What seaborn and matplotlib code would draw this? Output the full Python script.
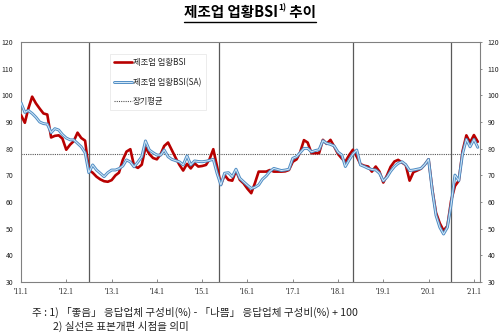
import matplotlib
matplotlib.use("Agg")
import matplotlib.pyplot as plt
import matplotlib.patheffects as pe
from matplotlib.lines import Line2D
import numpy as np
import pandas as pd
import seaborn as sns

# 제조업 업황BSI (원계열), 2011.1 ~ 2021.2 월별
bsi = [
    92.6, 89.7, 95.0, 99.5, 97.0, 95.0, 93.2, 92.8, 84.2, 84.8, 85.0, 83.8,
    79.6, 81.5, 82.8, 86.0, 84.0, 83.0, 72.0, 71.0, 69.5, 68.5, 67.8, 67.6,
    68.2, 70.0, 71.0, 75.8, 78.9, 79.8, 73.5, 72.8, 74.0, 80.5, 78.0, 76.5,
    76.0, 78.0, 81.0, 82.3, 79.5, 76.6, 74.0, 71.8, 74.3, 72.6, 74.5, 73.3,
    73.5, 73.9, 76.0, 79.8, 73.3, 66.5, 70.1, 68.3, 68.0, 71.8, 68.3, 67.0,
    65.0, 63.3, 67.0, 71.4, 71.4, 71.4, 72.0, 71.4, 71.4, 71.4, 71.5, 72.0,
    75.1, 76.0, 78.6, 83.2, 82.3, 78.3, 78.3, 78.3, 83.3, 81.8, 83.3, 80.8,
    78.0, 76.3, 75.1, 77.6, 79.6, 77.0, 74.2, 73.6, 73.3, 71.4, 73.3, 71.4,
    67.3, 70.1, 73.2, 75.2, 75.8, 74.8, 73.9, 68.0, 71.2, 71.8, 72.5, 74.0,
    76.0, 64.5, 56.0, 52.0, 49.3, 51.0, 60.5, 66.0, 68.0, 79.0, 85.0, 82.3,
    85.1, 82.6,
]

# 제조업 업황BSI (계절조정계열)
bsi_sa = [
    97.2, 93.6, 94.3, 93.2, 91.8, 90.0, 89.4, 89.2, 86.0, 87.5, 87.0, 85.3,
    84.0, 83.3, 83.3, 82.0, 80.7, 78.5, 71.0, 73.9, 72.0, 70.8, 69.5, 71.0,
    72.0, 72.0, 72.5, 73.5, 75.8, 75.0, 73.2, 75.0, 77.0, 82.9, 79.5, 78.5,
    77.6, 77.6, 79.5, 77.0, 76.0, 75.5, 75.1, 73.9, 77.3, 73.9, 75.4, 75.2,
    75.1, 75.3, 75.6, 76.0, 70.8, 66.4, 70.8, 71.0, 69.5, 72.3, 68.9, 67.6,
    66.3, 65.1, 65.5, 66.4, 68.5, 69.8, 71.5, 72.6, 72.2, 71.8, 72.0, 72.3,
    76.4, 77.0, 78.5, 80.1, 80.1, 78.8, 79.3, 79.6, 83.0, 82.0, 81.6, 81.0,
    78.7, 77.6, 73.3, 75.8, 78.0, 79.5, 73.9, 73.3, 72.6, 72.2, 72.0, 70.8,
    67.9, 69.4, 71.5, 73.3, 74.5, 75.1, 74.0, 71.8, 72.0, 72.3, 72.6, 74.0,
    76.0, 64.0, 55.0, 50.5, 48.0, 50.5, 59.0, 70.1, 68.0, 78.0, 83.5, 80.7,
    83.5, 80.5,
]

long_run_avg = 78
revision_dates = ["2012-07-01", "2015-05-15", "2018-05-01", "2020-07-01"]
year_ticks = ["2011-01-01", "2012-01-01", "2013-01-01", "2014-01-01", "2015-01-01",
              "2016-01-01", "2017-01-01", "2018-01-01", "2019-01-01", "2020-01-01",
              "2021-01-01"]
year_labels = ["'11.1", "'12.1", "'13.1", "'14.1", "'15.1", "'16.1",
               "'17.1", "'18.1", "'19.1", "'20.1", "'21.1"]
y_ticks = [30, 40, 50, 60, 70, 80, 90, 100, 110, 120]

label_bsi = "제조업 업황BSI"
label_sa = "제조업 업황BSI(SA)"
label_avg = "장기평균"
note_1 = "주 : 1) 「좋음」 응답업체 구성비(%) - 「나쁨」 응답업체 구성비(%) + 100"
note_2 = "2) 실선은 표본개편 시점을 의미"

sns.set_theme(style="white")
plt.rcParams["font.family"] = ["Noto Sans CJK KR", "DejaVu Sans"]

RED = "#B80000"
SA_IN = "#D6E9F8"
SA_OUT = "#4F8DC4"
GRID = "#595959"

months = pd.date_range("2011-01-01", periods=len(bsi), freq="MS")
df = pd.DataFrame({"month": months, "bsi": bsi, "bsi_sa": bsi_sa})

fig = plt.figure(figsize=(5, 3.33), dpi=100)
ax = fig.add_axes([0.042, 0.153, 0.918, 0.721])

sns.lineplot(data=df, x="month", y="bsi", color=RED, linewidth=1.9, ax=ax, zorder=3)
sns.lineplot(data=df, x="month", y="bsi_sa", color=SA_IN, linewidth=0.7, ax=ax, zorder=4)
sa_line = ax.lines[-1]
sa_effects = [pe.Stroke(linewidth=2.1, foreground=SA_OUT), pe.Normal()]
sa_line.set_path_effects(sa_effects)

ax.axhline(long_run_avg, color="#555555", linewidth=0.8, linestyle=(0, (1, 1)), zorder=2)
for d in pd.to_datetime(revision_dates):
    ax.axvline(d, color=GRID, linewidth=0.9, zorder=1)

ax.set_xlim(pd.Timestamp("2011-01-01"), pd.Timestamp("2021-02-19"))
ax.set_ylim(30, 120)
ax.set_yticks(y_ticks)
ax.set_yticklabels([str(v) for v in y_ticks])
ax.set_xticks(pd.to_datetime(year_ticks))
ax.set_xticklabels(year_labels, fontfamily=["Liberation Serif"], fontsize=5.5)
ax.set_xlabel("")
ax.set_ylabel("")

ax.tick_params(axis="y", left=False, right=True, labelleft=True, labelright=True,
               length=1.5, width=0.6, direction="out", color="#777777",
               labelsize=5, pad=4, labelcolor="#222222")
ax.tick_params(axis="x", bottom=True, length=2, width=0.6, direction="in",
               color="#777777", pad=4, labelcolor="#222222")
for s in ax.spines.values():
    s.set_visible(True)
    s.set_color("#808080")
    s.set_linewidth(0.8)

handles = [
    Line2D([], [], color=RED, linewidth=1.9),
    Line2D([], [], color=SA_IN, linewidth=0.7, path_effects=sa_effects),
    Line2D([], [], color="#555555", linewidth=0.8, linestyle=(0, (1, 1))),
]
leg = ax.legend(handles, [label_bsi, label_sa, label_avg],
                loc="upper left", bbox_to_anchor=(106 / 500, 1 - 50 / 333),
                bbox_transform=fig.transFigure, frameon=True, fontsize=6,
                handlelength=2.1, handletextpad=0.15, labelspacing=1.25,
                borderpad=0.5, fancybox=False)
leg.get_frame().set_edgecolor("#E4E4E4")
leg.get_frame().set_linewidth(0.6)
leg.get_frame().set_facecolor("white")

# title with superscript footnote mark
fig.canvas.draw()
renderer = fig.canvas.get_renderer()
ty = 1 - 12 / 333
parts = [("제조업 업황BSI", 10.5, 0.0), ("1)", 6.0, 0.012), (" 추이", 10.5, 0.0)]
texts = []
for s, fs, dy in parts:
    t = fig.text(0.0, ty + dy, s, fontsize=fs, fontweight="bold", va="center",
                 ha="left", color="black")
    texts.append(t)
fig.canvas.draw()
widths = [t.get_window_extent(renderer).width / fig.bbox.width for t in texts]
total = sum(widths)
x0 = 0.5 - total / 2
cur = x0
for t, w in zip(texts, widths):
    t.set_x(cur)
    cur += w
fig.add_artist(Line2D([x0, cur], [1 - 21.5 / 333, 1 - 21.5 / 333],
                      transform=fig.transFigure, color="black", linewidth=1.0))

fig.text(32 / 500, 1 - 312 / 333, note_1, fontsize=7.6, va="center", ha="left",
         color="#222222")
fig.text(53 / 500, 1 - 326 / 333, note_2, fontsize=7.6, va="center", ha="left",
         color="#222222")

fig.savefig("out.png", dpi=100)
